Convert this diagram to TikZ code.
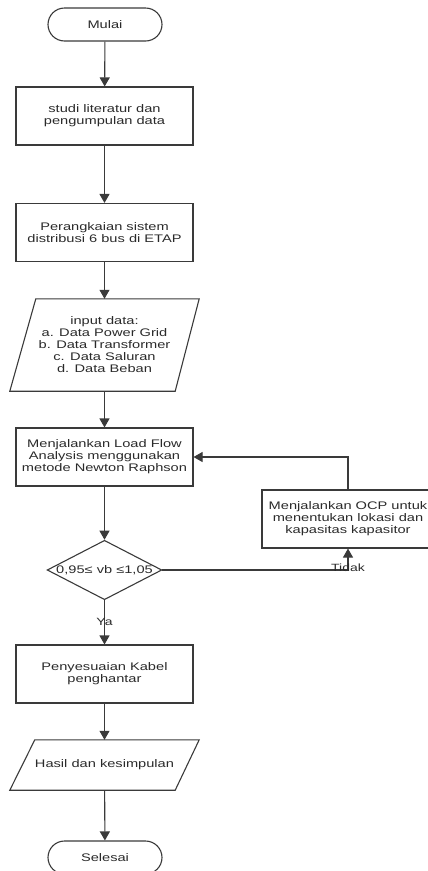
\documentclass[tikz,border=0pt]{standalone}
\usepackage{fontspec}
\setmainfont{Liberation Sans}[FakeStretch=1.33]
\usetikzlibrary{arrows.meta,shapes.geometric}
\definecolor{ln}{HTML}{3A3A3A}
\definecolor{tx}{HTML}{2A2A2A}
\begin{document}
\begin{tikzpicture}[x=1pt,y=-1pt,
  every node/.style={font=\fontsize{11}{12}\selectfont, text=tx, align=center, inner sep=0pt},
  proc/.style={draw=ln, line width=1.1pt, minimum width=177pt, minimum height=58pt},
  term/.style={draw=ln, line width=1.1pt, minimum width=114pt, minimum height=33pt, rounded corners=16.5pt},
  iobox/.style={minimum width=189pt},
  dec/.style={draw=ln, line width=1.1pt, diamond, minimum width=112pt, minimum height=58pt, aspect=1.93},
  par/.style={draw=ln, line width=1.1pt},
  arr/.style={draw=ln, line width=1.1pt, -{Triangle[width=10pt,length=9pt]}},
  lbl/.style={font=\fontsize{10.5}{12}\selectfont}]
\useasboundingbox (0,0) rectangle (428,871);
\node[term] (start) at (105,24.5) {Mulai};
\node[proc] (b1) at (104.5,116) {studi literatur dan\\pengumpulan data};
\node[proc] (b2) at (104.5,232.5) {Perangkaian sistem\\distribusi 6 bus di ETAP};
\node[iobox, minimum height=92pt] (in) at (104.5,345) {input data:\\a. Data Power Grid\\b. Data Transformer\\c. Data Saluran\\d. Data Beban};
\draw[par] ([xshift=26pt]in.north west) -- (in.north east) -- ([xshift=-24pt]in.south east) -- (in.south west) -- cycle;
\node[proc] (b3) at (104.5,457) {Menjalankan Load Flow\\Analysis menggunakan\\metode Newton Raphson};
\node[dec] (d) at (104.5,570) {0,95≤ vb ≤1,05};
\node[proc, minimum width=172pt] (ocp) at (348,519) {Menjalankan OCP untuk\\menentukan lokasi dan\\kapasitas kapasitor};
\node[proc] (b4) at (104.5,674) {Penyesuaian Kabel\\penghantar};
\node[iobox, minimum height=50pt] (out) at (104.5,765) {Hasil dan kesimpulan};
\draw[par] ([xshift=25pt]out.north west) -- (out.north east) -- ([xshift=-24pt]out.south east) -- (out.south west) -- cycle;
\node[term] (end) at (105,857.5) {Selesai};

\draw[arr] (start) -- (b1);
\draw[arr] (b1) -- (b2);
\draw[arr] (b2) -- (in);
\draw[arr] (in) -- (b3);
\draw[arr] (b3) -- (d);
\draw[arr] (d) -- (b4) node[lbl, pos=0.5] {Ya};
\draw[arr] (d.east) -| (ocp.south) node[lbl, pos=0.5, yshift=2.5pt] {Tidak};
\draw[arr] (ocp.north) |- (b3.east);
\draw[arr] (b4) -- (out);
\draw[arr] (out) -- (end);
\end{tikzpicture}
\end{document}
